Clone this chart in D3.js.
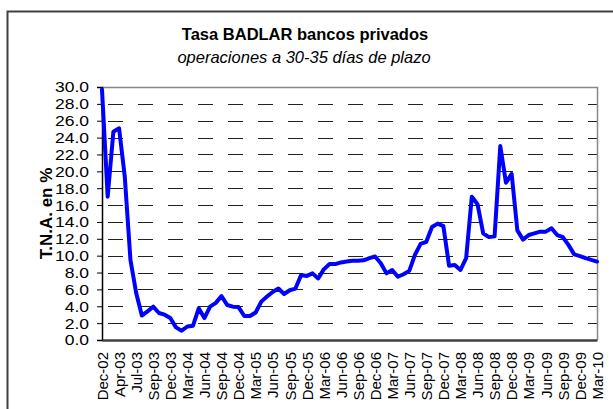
<!DOCTYPE html>
<html>
<head>
<meta charset="utf-8">
<script src="https://cdn.jsdelivr.net/npm/d3@7"></script>
<style>
  html, body { margin: 0; padding: 0; background: #fff; }
  svg { display: block; font-family: "Liberation Sans", Arial, sans-serif; }
</style>
</head>
<body>
<svg id="chart" width="613" height="409"></svg>
<script>
// Monthly BADLAR rate (private banks), Dec-02 .. Mar-10, % annual nominal
const rates = [
  29.7, 17.0, 24.7, 25.1, 19.4, 9.5, 5.6, 2.9, 3.4, 3.95,
  3.2, 3.0, 2.6, 1.5, 1.1, 1.6, 1.7, 3.75, 2.6, 3.95,
  4.4, 5.2, 4.15, 3.95, 3.9, 2.85, 2.85, 3.25, 4.55, 5.15,
  5.7, 6.1, 5.45, 5.9, 6.1, 7.7, 7.6, 7.9, 7.3, 8.4,
  9.0, 9.0, 9.2, 9.3, 9.4, 9.4, 9.45, 9.7, 9.9, 9.1,
  7.9, 8.3, 7.5, 7.8, 8.2, 10.1, 11.4, 11.65, 13.4, 13.8,
  13.5, 8.8, 8.9, 8.3, 9.7, 17.0, 16.1, 12.65, 12.2, 12.3,
  23.0, 18.65, 19.7, 13.0, 11.9, 12.45, 12.65, 12.85, 12.85, 13.25,
  12.45, 12.2, 11.25, 10.15, 9.95, 9.7, 9.5, 9.3
];

// Category labels shown every third month
const tickLabels = [
  "Dec-02", "Apr-03", "Jul-03", "Sep-03", "Dec-03", "Mar-04", "Jun-04", "Sep-04",
  "Dec-04", "Mar-05", "Jun-05", "Sep-05", "Dec-05", "Mar-06", "Jun-06", "Sep-06",
  "Dec-06", "Mar-07", "Jun-07", "Sep-07", "Dec-07", "Mar-08", "Jun-08", "Sep-08",
  "Dec-08", "Mar-09", "Jun-09", "Sep-09", "Dec-09", "Mar-10"
];
const labelStep = 3;

const yTicks = d3.range(0, 30.001, 2);

const title = "Tasa BADLAR bancos privados";
const subtitle = "operaciones a 30-35 días de plazo";
const yTitle = "T.N.A. en %";

const svg = d3.select("#chart");
const plot = { left: 102, right: 597, top: 87, bottom: 340 };

// Outer chart frame
svg.append("rect")
  .attr("x", 7.5).attr("y", 11.5)
  .attr("width", 640).attr("height", 440)
  .attr("fill", "none").attr("stroke", "#404040").attr("stroke-width", 2);

const x = d3.scaleLinear().domain([0, rates.length - 1]).range([plot.left, plot.right]);
const y = d3.scaleLinear().domain([0, 30]).range([plot.bottom, plot.top]);

// Dashed horizontal gridlines
svg.append("g")
  .selectAll("line")
  .data(yTicks.filter(v => v > 0 && v < 30))
  .join("line")
  .attr("x1", plot.left + 6).attr("x2", plot.right)
  .attr("y1", d => Math.round(y(d)) + 0.5).attr("y2", d => Math.round(y(d)) + 0.5)
  .attr("stroke", "#222").attr("stroke-width", 1)
  .attr("stroke-dasharray", "15,15");

// Plot area border (top and right)
svg.append("path")
  .attr("d", `M${plot.left},${plot.top + 0.5}H${plot.right + 0.5}V${plot.bottom}`)
  .attr("fill", "none").attr("stroke", "#888").attr("stroke-width", 1.5);

// Y axis (labels slightly widened, as in the source typeface)
const yAxis = d3.axisLeft(y).tickValues(yTicks).tickFormat(d3.format(".1f")).tickSize(5).tickPadding(8);
const gy = svg.append("g").attr("transform", `translate(${plot.left},0)`).call(yAxis);
gy.select(".domain").attr("stroke", "#000").attr("stroke-width", 1.5);
gy.selectAll(".tick line").attr("stroke", "#000");
gy.selectAll(".tick text")
  .attr("font-size", 15.5).attr("fill", "#000")
  .attr("font-family", "Liberation Sans, Arial, sans-serif")
  .attr("x", 0)
  .attr("transform", "translate(-13,0) scale(1.13,1)");

// X axis with category labels
const labelIdx = tickLabels.map((_, i) => i * labelStep);
const xAxis = d3.axisBottom(x).tickValues(labelIdx)
  .tickFormat((d, i) => tickLabels[i]).tickSize(0).tickPadding(0);
const gx = svg.append("g").attr("transform", `translate(0,${plot.bottom})`).call(xAxis);
gx.select(".domain").attr("stroke", "#404040").attr("stroke-width", 2.5);
gx.selectAll(".tick text")
  .attr("font-size", 15).attr("fill", "#000")
  .attr("font-family", "Liberation Sans, Arial, sans-serif")
  .attr("text-anchor", "end")
  .attr("transform", "rotate(-90)")
  .attr("x", -12).attr("y", 0).attr("dy", "0.35em");

// Rate line
const line = d3.line().x((d, i) => x(i)).y(d => y(d));
svg.append("path")
  .datum(rates)
  .attr("d", line)
  .attr("fill", "none")
  .attr("stroke", "#0000FF")
  .attr("stroke-width", 4)
  .attr("stroke-linejoin", "round")
  .attr("stroke-linecap", "round");

// Titles
svg.append("text")
  .attr("x", 305).attr("y", 40)
  .attr("text-anchor", "middle")
  .attr("font-size", 16.5).attr("font-weight", "bold")
  .text(title);
svg.append("text")
  .attr("x", 304).attr("y", 63)
  .attr("text-anchor", "middle")
  .attr("font-size", 16.5).attr("font-style", "italic")
  .text(subtitle);

svg.append("text")
  .attr("transform", `translate(52,${(plot.top + plot.bottom) / 2}) rotate(-90)`)
  .attr("text-anchor", "middle")
  .attr("font-size", 17).attr("font-weight", "bold")
  .text(yTitle);
</script>
</body>
</html>
